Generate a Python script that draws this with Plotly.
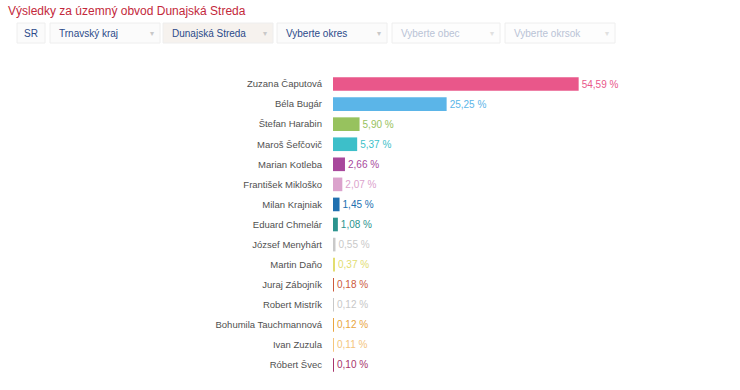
import plotly.graph_objects as go

candidates = ["Zuzana Čaputová", "Béla Bugár", "Štefan Harabin", "Maroš Šefčovič",
              "Marian Kotleba", "František Mikloško", "Milan Krajniak", "Eduard Chmelár",
              "József Menyhárt", "Martin Daňo", "Juraj Zábojník", "Robert Mistrík",
              "Bohumila Tauchmannová", "Ivan Zuzula", "Róbert Švec"]
percent = [54.59, 25.25, 5.90, 5.37, 2.66, 2.07, 1.45, 1.08, 0.55, 0.37, 0.18, 0.12, 0.12, 0.11, 0.10]
colors = ["#e9578a", "#5bb5e8", "#97c25e", "#3dbfc9", "#a8489c", "#dba2cc", "#2070b0",
          "#2b938e", "#c9c9c9", "#e2dd70", "#cc5a3c", "#c8c8c8", "#e9a540", "#f4c57c", "#a8346b"]

title_text = "Výsledky za územný obvod Dunajská Streda"
dropdowns = [("SR", False, True), ("Trnavský kraj", True, True), ("Dunajská Streda", True, True),
             ("Vyberte okres", True, True), ("Vyberte obec", True, False), ("Vyberte okrsok", True, False)]

W, H = 740, 390
L, T, PW, PH = 333, 74, 360, 301


def px(x):
    return (x - L) / PW


def py(y):
    return (T + PH - y) / PH


fig = go.Figure(go.Bar(
    y=candidates, x=percent, orientation="h",
    marker=dict(color=colors, line=dict(width=0)),
    width=0.68,
    texttemplate="%{x:.2f} %", textposition="outside",
    textfont=dict(color=colors, size=10),
    cliponaxis=False, hoverinfo="skip",
))

fig.update_layout(
    width=W, height=H,
    margin=dict(l=L, r=W - L - PW, t=T, b=H - T - PH),
    paper_bgcolor="white", plot_bgcolor="white",
    separators=", ",
    font=dict(family="Arial, Liberation Sans, sans-serif", size=9, color="#555555"),
    showlegend=False,
    xaxis=dict(range=[0, 80], visible=False, fixedrange=True),
    yaxis=dict(autorange="reversed", showgrid=False, showline=False, ticks="",
               ticklabelstandoff=10, tickfont=dict(size=9.5, color="#505050"),
               fixedrange=True),
)

fig.add_annotation(text=title_text, xref="paper", yref="paper", x=px(6), y=py(2),
                   xanchor="left", yanchor="top", showarrow=False,
                   font=dict(size=12, color="#c3283b"))

boxes = [(17, 45), (50, 160), (163, 273), (277, 387), (392, 500), (505, 615)]
for (label, has_arrow, active), (x0, x1) in zip(dropdowns, boxes):
    fill = "#f6f2ee" if label == "Dunajská Streda" else ("#fbfbfb" if active else "#fdfdfd")
    fig.add_shape(type="rect", xref="paper", yref="paper",
                  x0=px(x0), x1=px(x1), y0=py(43), y1=py(23),
                  fillcolor=fill, line=dict(color="#eeeeee", width=1), layer="below")
    tcol = "#2b4a8a" if active else "#b9c3d6"
    if label == "SR":
        fig.add_annotation(text=label, xref="paper", yref="paper", x=px((x0 + x1) / 2), y=py(33),
                           xanchor="center", yanchor="middle", showarrow=False,
                           font=dict(size=10, color=tcol))
    else:
        fig.add_annotation(text=label, xref="paper", yref="paper", x=px(x0 + 7), y=py(33),
                           xanchor="left", yanchor="middle", showarrow=False,
                           font=dict(size=10, color=tcol))
        fig.add_annotation(text="▾", xref="paper", yref="paper", x=px(x1 - 8), y=py(33),
                           xanchor="center", yanchor="middle", showarrow=False,
                           font=dict(size=8, color="#c8c8c8" if active else "#e0e0e0"))

fig.write_html("out.html", config={"displayModeBar": False},
               post_script="document.body.style.margin='0';")
